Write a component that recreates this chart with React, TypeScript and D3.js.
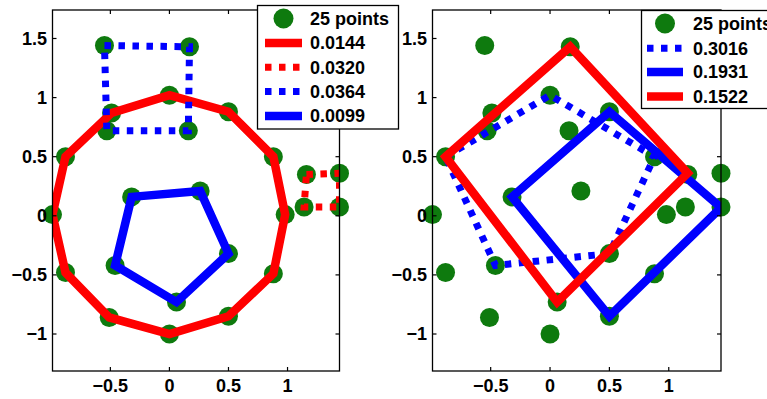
import React from "react";
import * as d3 from "d3";

type Pt = [number, number];

// 25 sample points
const ringPts: Pt[] = [
  [0.98, 0.01], [0.88, 0.5], [0.5, 0.88], [0.0, 1.02], [-0.49, 0.87], [-0.88, 0.5],
  [-0.99, 0.01], [-0.88, -0.48], [-0.51, -0.86], [0.0, -1.0], [0.5, -0.85], [0.88, -0.49],
];
const blueSquarePts: Pt[] = [[-0.55, 1.44], [0.17, 1.43], [0.16, 0.72], [-0.53, 0.72]];
const redSquarePts: Pt[] = [[1.16, 0.35], [1.44, 0.36], [1.44, 0.075], [1.14, 0.075]];
const pentagonPts: Pt[] = [[-0.32, 0.16], [0.26, 0.21], [0.5, -0.32], [0.06, -0.73], [-0.46, -0.42]];
const allPts: Pt[] = [...ringPts, ...blueSquarePts, ...redSquarePts, ...pentagonPts];

// fitted shapes
const leftShapes: Pt[][] = [ringPts, redSquarePts, blueSquarePts, pentagonPts];
const leftLabels = ["0.0144", "0.0320", "0.0364", "0.0099"];

const rightShapes: Pt[][] = [
  [[-0.88, 0.5], [0.0, 1.02], [0.88, 0.5], [0.5, -0.32], [-0.46, -0.42]],
  [[-0.32, 0.16], [0.5, 0.88], [1.44, 0.07], [0.5, -0.85]],
  [[-0.88, 0.5], [0.17, 1.43], [1.16, 0.36], [0.06, -0.73]],
];
const rightLabels = ["0.3016", "0.1931", "0.1522"];

const pointsLabel = "25 points";
const xTicks = [-0.5, 0, 0.5, 1];
const yTicks = [-1, -0.5, 0, 0.5, 1, 1.5];
const xDomain = [-0.99, 1.44];
const yDomain = [-1.313, 1.741];

const RED = "#ff0000";
const BLUE = "#0000ff";
const GREEN = "#0e7a0e";
const FONT = "'Liberation Sans', Arial, Helvetica, sans-serif";
const FS = 18;

const leftStyles = [
  { color: RED, dotted: false },
  { color: RED, dotted: true },
  { color: BLUE, dotted: true },
  { color: BLUE, dotted: false },
];
const rightStyles = [
  { color: BLUE, dotted: true },
  { color: BLUE, dotted: false },
  { color: RED, dotted: false },
];

const fmt = (v: number) => (v < 0 ? "\u2212" + String(-v) : String(v));

type Style = { color: string; dotted: boolean };

function Panel({ id, x0, x1, shapes, styles, labels, legend }: {
  id: string; x0: number; x1: number; shapes: Pt[][]; styles: Style[]; labels: string[];
  legend: { x: number; y: number; w: number; h: number; rows: number[]; lineX: [number, number]; textX: number };
}) {
  const top = 10, bottom = 371;
  const x = d3.scaleLinear().domain(xDomain).range([x0, x1]);
  const y = d3.scaleLinear().domain(yDomain).range([bottom, top]);
  const line = d3.line<Pt>().x((d) => x(d[0])).y((d) => y(d[1])).curve(d3.curveLinearClosed);
  const tl = 4;

  return (
    <g>
      <defs>
        <clipPath id={id}>
          <rect x={x0} y={top} width={x1 - x0} height={bottom - top} />
        </clipPath>
      </defs>
      <rect x={x0} y={top} width={x1 - x0} height={bottom - top} fill="#fff" />
      {allPts.map((p, i) => (
        <circle key={i} cx={x(p[0])} cy={y(p[1])} r={9.5} fill={GREEN} />
      ))}
      <g clipPath={`url(#${id})`}>
        {shapes.map((s, i) => (
          <path key={i} d={line(s) ?? ""} fill="none" stroke={styles[i].color}
            strokeWidth={styles[i].dotted ? 7 : 8.5}
            strokeDasharray={styles[i].dotted ? "6.5,7.5" : undefined} />
        ))}
      </g>
      {/* axes box and inward ticks */}
      <rect x={x0} y={top} width={x1 - x0} height={bottom - top} fill="none" stroke="#000" strokeWidth={1.3} />
      {xTicks.map((t) => (
        <g key={"x" + t}>
          <line x1={x(t)} x2={x(t)} y1={bottom} y2={bottom - tl} stroke="#000" strokeWidth={1.2} />
          <line x1={x(t)} x2={x(t)} y1={top} y2={top + tl} stroke="#000" strokeWidth={1.2} />
          <text x={x(t)} y={392} textAnchor="middle" fontFamily={FONT} fontWeight="bold" fontSize={FS}>{fmt(t)}</text>
        </g>
      ))}
      {yTicks.map((t) => (
        <g key={"y" + t}>
          <line x1={x0} x2={x0 + tl} y1={y(t)} y2={y(t)} stroke="#000" strokeWidth={1.2} />
          <line x1={x1} x2={x1 - tl} y1={y(t)} y2={y(t)} stroke="#000" strokeWidth={1.2} />
          <text x={x0 - 5.5} y={y(t)} dy="0.36em" textAnchor="end" fontFamily={FONT} fontWeight="bold" fontSize={FS}>{fmt(t)}</text>
        </g>
      ))}
      {/* legend */}
      <rect x={legend.x} y={legend.y} width={legend.w} height={legend.h} fill="#fff" stroke="#000" strokeWidth={1.3} />
      <circle cx={(legend.lineX[0] + legend.lineX[1]) / 2} cy={legend.rows[0]} r={10} fill={GREEN} />
      <text x={legend.textX} y={legend.rows[0]} dy="0.36em" fontFamily={FONT} fontWeight="bold" fontSize={FS}>{pointsLabel}</text>
      {labels.map((lab, i) => (
        <g key={lab}>
          <line x1={legend.lineX[0]} x2={legend.lineX[1]} y1={legend.rows[i + 1]} y2={legend.rows[i + 1]}
            stroke={styles[i].color} strokeWidth={styles[i].dotted ? 7 : 8.5}
            strokeDasharray={styles[i].dotted ? "6.5,7.5" : undefined} />
          <text x={legend.textX} y={legend.rows[i + 1]} dy="0.36em" fontFamily={FONT} fontWeight="bold" fontSize={FS}>{lab}</text>
        </g>
      ))}
    </g>
  );
}

export default function App() {
  return (
    <svg width={767} height={399} style={{ position: "absolute", left: 0, top: 0, background: "#fff" }}>
      <rect width={767} height={399} fill="#fff" />
      <Panel id="clipL" x0={52.5} x1={339.5} shapes={leftShapes} styles={leftStyles} labels={leftLabels}
        legend={{ x: 257.5, y: 5.5, w: 141, h: 123.5, rows: [18.5, 43, 67.3, 91.5, 116], lineX: [265, 302], textX: 310 }} />
      <Panel id="clipR" x0={432.5} x1={721} shapes={rightShapes} styles={rightStyles} labels={rightLabels}
        legend={{ x: 641.5, y: 10.5, w: 140, h: 98, rows: [23.5, 48.3, 72, 96.5], lineX: [647, 683], textX: 693 }} />
    </svg>
  );
}
